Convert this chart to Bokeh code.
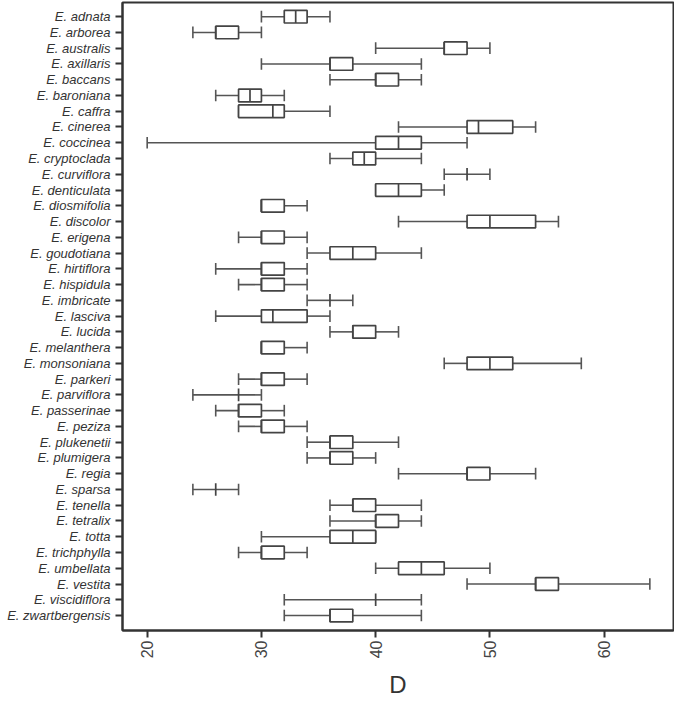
import math
from bokeh.plotting import figure
from bokeh.models import FixedTicker, Range1d, ColumnDataSource
from bokeh.embed import file_html
from bokeh.resources import INLINE

species = ["E. adnata", "E. arborea", "E. australis", "E. axillaris", "E. baccans",
           "E. baroniana", "E. caffra", "E. cinerea", "E. coccinea", "E. cryptoclada",
           "E. curviflora", "E. denticulata", "E. diosmifolia", "E. discolor", "E. erigena",
           "E. goudotiana", "E. hirtiflora", "E. hispidula", "E. imbricate", "E. lasciva",
           "E. lucida", "E. melanthera", "E. monsoniana", "E. parkeri", "E. parviflora",
           "E. passerinae", "E. peziza", "E. plukenetii", "E. plumigera", "E. regia",
           "E. sparsa", "E. tenella", "E. tetralix", "E. totta", "E. trichphylla",
           "E. umbellata", "E. vestita", "E. viscidiflora", "E. zwartbergensis"]

lo  = [30, 24, 40, 30, 36, 26, 28, 42, 20, 36, 46, 40, 30, 42, 28, 34, 26, 28, 34, 26,
       36, 30, 46, 28, 24, 26, 28, 34, 34, 42, 24, 36, 36, 30, 28, 40, 48, 32, 32]
q1  = [32, 26, 46, 36, 40, 28, 28, 48, 40, 38, 48, 40, 30, 48, 30, 36, 30, 30, 36, 30,
       38, 30, 48, 30, 28, 28, 30, 36, 36, 48, 26, 38, 40, 36, 30, 42, 54, 40, 36]
med = [33, 26, 46, 36, 40, 29, 31, 49, 42, 39, 48, 42, 30, 50, 30, 38, 30, 30, 36, 31,
       38, 30, 50, 30, 28, 28, 30, 36, 36, 48, 26, 38, 40, 38, 30, 44, 54, 40, 36]
q3  = [34, 28, 48, 38, 42, 30, 32, 52, 44, 40, 48, 44, 32, 54, 32, 40, 32, 32, 36, 34,
       40, 32, 52, 32, 28, 30, 32, 38, 38, 50, 26, 40, 42, 40, 32, 46, 56, 40, 38]
hi  = [36, 30, 50, 44, 44, 32, 36, 54, 48, 44, 50, 46, 34, 56, 34, 44, 34, 34, 38, 36,
       42, 34, 58, 34, 30, 32, 34, 42, 40, 54, 28, 44, 44, 40, 34, 50, 64, 44, 44]
x_ticks = [20, 30, 40, 50, 60]

n = len(species)
ypos = [n - i for i in range(n)]
has_box = [b > a for a, b in zip(q1, q3)]

src = ColumnDataSource(dict(y=ypos, lo=lo, q1=q1, med=med, q3=q3, hi=hi))
box_src = ColumnDataSource(dict(
    y=[y for y, h in zip(ypos, has_box) if h],
    q1=[v for v, h in zip(q1, has_box) if h],
    q3=[v for v, h in zip(q3, has_box) if h]))

BH = 0.8
CH = 0.74
line_col = "#555555"
box_col = "#444444"

p = figure(frame_width=551, frame_height=628, output_backend="svg", toolbar_location=None,
           x_range=Range1d(17.84, 66.07), y_range=Range1d(0.05, n + 0.9),
           min_border_left=122, min_border_right=1, min_border_top=2, min_border_bottom=40,
           background_fill_color="white", border_fill_color="white")

# whiskers
p.segment(x0="lo", y0="y", x1="q1", y1="y", source=src, line_color=line_col, line_width=1.6)
p.segment(x0="q3", y0="y", x1="hi", y1="y", source=src, line_color=line_col, line_width=1.6)
# caps and medians
ys = ColumnDataSource(dict(lo=lo, hi=hi, med=med,
                           yb=[y - CH / 2 for y in ypos], yt=[y + CH / 2 for y in ypos],
                           mb=[y - BH / 2 for y in ypos], mt=[y + BH / 2 for y in ypos]))
p.segment(x0="lo", y0="yb", x1="lo", y1="yt", source=ys, line_color=line_col, line_width=1.6)
p.segment(x0="hi", y0="yb", x1="hi", y1="yt", source=ys, line_color=line_col, line_width=1.6)
p.hbar(y="y", left="q1", right="q3", height=BH, source=box_src, fill_color="white",
       line_color=box_col, line_width=1.7)
p.segment(x0="med", y0="mb", x1="med", y1="mt", source=ys, line_color=box_col, line_width=1.7)

p.xgrid.visible = False
p.ygrid.visible = False
p.outline_line_color = "#333333"
p.outline_line_width = 2
p.outline_line_alpha = 1

xa = p.xaxis[0]
xa.ticker = FixedTicker(ticks=x_ticks)
xa.minor_tick_line_color = None
xa.major_tick_out = 7
xa.major_tick_in = 0
xa.major_tick_line_width = 2
xa.major_tick_line_color = "#333333"
xa.axis_line_width = 2
xa.axis_line_color = "#333333"
xa.major_label_orientation = math.pi / 2
xa.major_label_text_font = "Liberation Sans"
xa.major_label_text_font_size = "16px"
xa.major_label_text_color = "#444444"
xa.major_label_standoff = 3
xa.axis_label = "D"
xa.axis_label_text_font = "Liberation Sans"
xa.axis_label_text_font_style = "normal"
xa.axis_label_text_font_size = "24px"
xa.axis_label_text_color = "#333333"
xa.axis_label_standoff = 10

ya = p.yaxis[0]
ya.ticker = FixedTicker(ticks=ypos)
ya.major_label_overrides = {y: s for y, s in zip(ypos, species)}
ya.minor_tick_line_color = None
ya.major_tick_out = 7
ya.major_tick_in = 0
ya.major_tick_line_width = 2
ya.major_tick_line_color = "#333333"
ya.axis_line_width = 2
ya.axis_line_color = "#333333"
ya.major_label_text_font = "Liberation Sans"
ya.major_label_text_font_style = "italic"
ya.major_label_text_font_size = "13px"
ya.major_label_text_color = "#333333"
ya.major_label_standoff = 5

open("out.html", "w").write(file_html(p, INLINE))
